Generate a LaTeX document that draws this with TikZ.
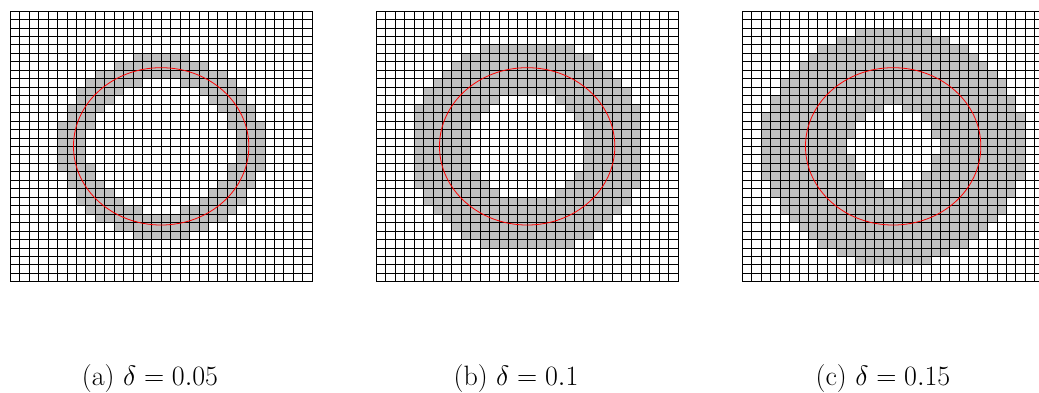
\RequirePackage{fix-cm}
\documentclass[tikz,border=0pt]{standalone}
\usepackage{tikz}

\tikzset{
  bandcell/.style={fill=gray!50},
  gridline/.style={black, line width=0.7pt},
  iface/.style={red, line width=0.8pt},
  caption/.style={anchor=base, font=\fontsize{28}{33}\selectfont}
}

% one 32x32 grid: #1 = left edge, #2 = band half width in cells
\newcommand{\bandgrid}[2]{%
  \begin{scope}[shift={(#1,111.3)}, x=9.428pt, y=8.459pt]
    \foreach \i in {0,...,31}{
      \foreach \j in {0,...,31}{
        \pgfmathsetmacro{\dist}{abs(veclen(\i+0.5-16,\j+0.5-16)-9.3)}
        \ifdim\dist pt<#2pt \fill[bandcell] (\i,\j) rectangle ++(1,1); \fi
      }
    }
    \foreach \k in {0,...,32}{
      \draw[gridline] (\k,0) -- (\k,32);
      \draw[gridline] (0,\k) -- (32,\k);
    }
    \draw[iface] (16,16) ellipse [x radius=9.3, y radius=9.3];
  \end{scope}}

\begin{document}
\begin{tikzpicture}[x=1pt, y=1pt]
    \useasboundingbox (0,0) rectangle (1039,393);

    % Grids
    \bandgrid{10.3}{1.55}
    \bandgrid{376.3}{3.1}
    \bandgrid{742.3}{4.65}

    % Captions
    \node[caption] (capa) at (150,7) {(a) $\delta = 0.05$};
    \node[caption] (capb) at (516,7) {(b) $\delta = 0.1$};
    \node[caption] (capc) at (883,7) {(c) $\delta = 0.15$};

\end{tikzpicture}
\end{document}
